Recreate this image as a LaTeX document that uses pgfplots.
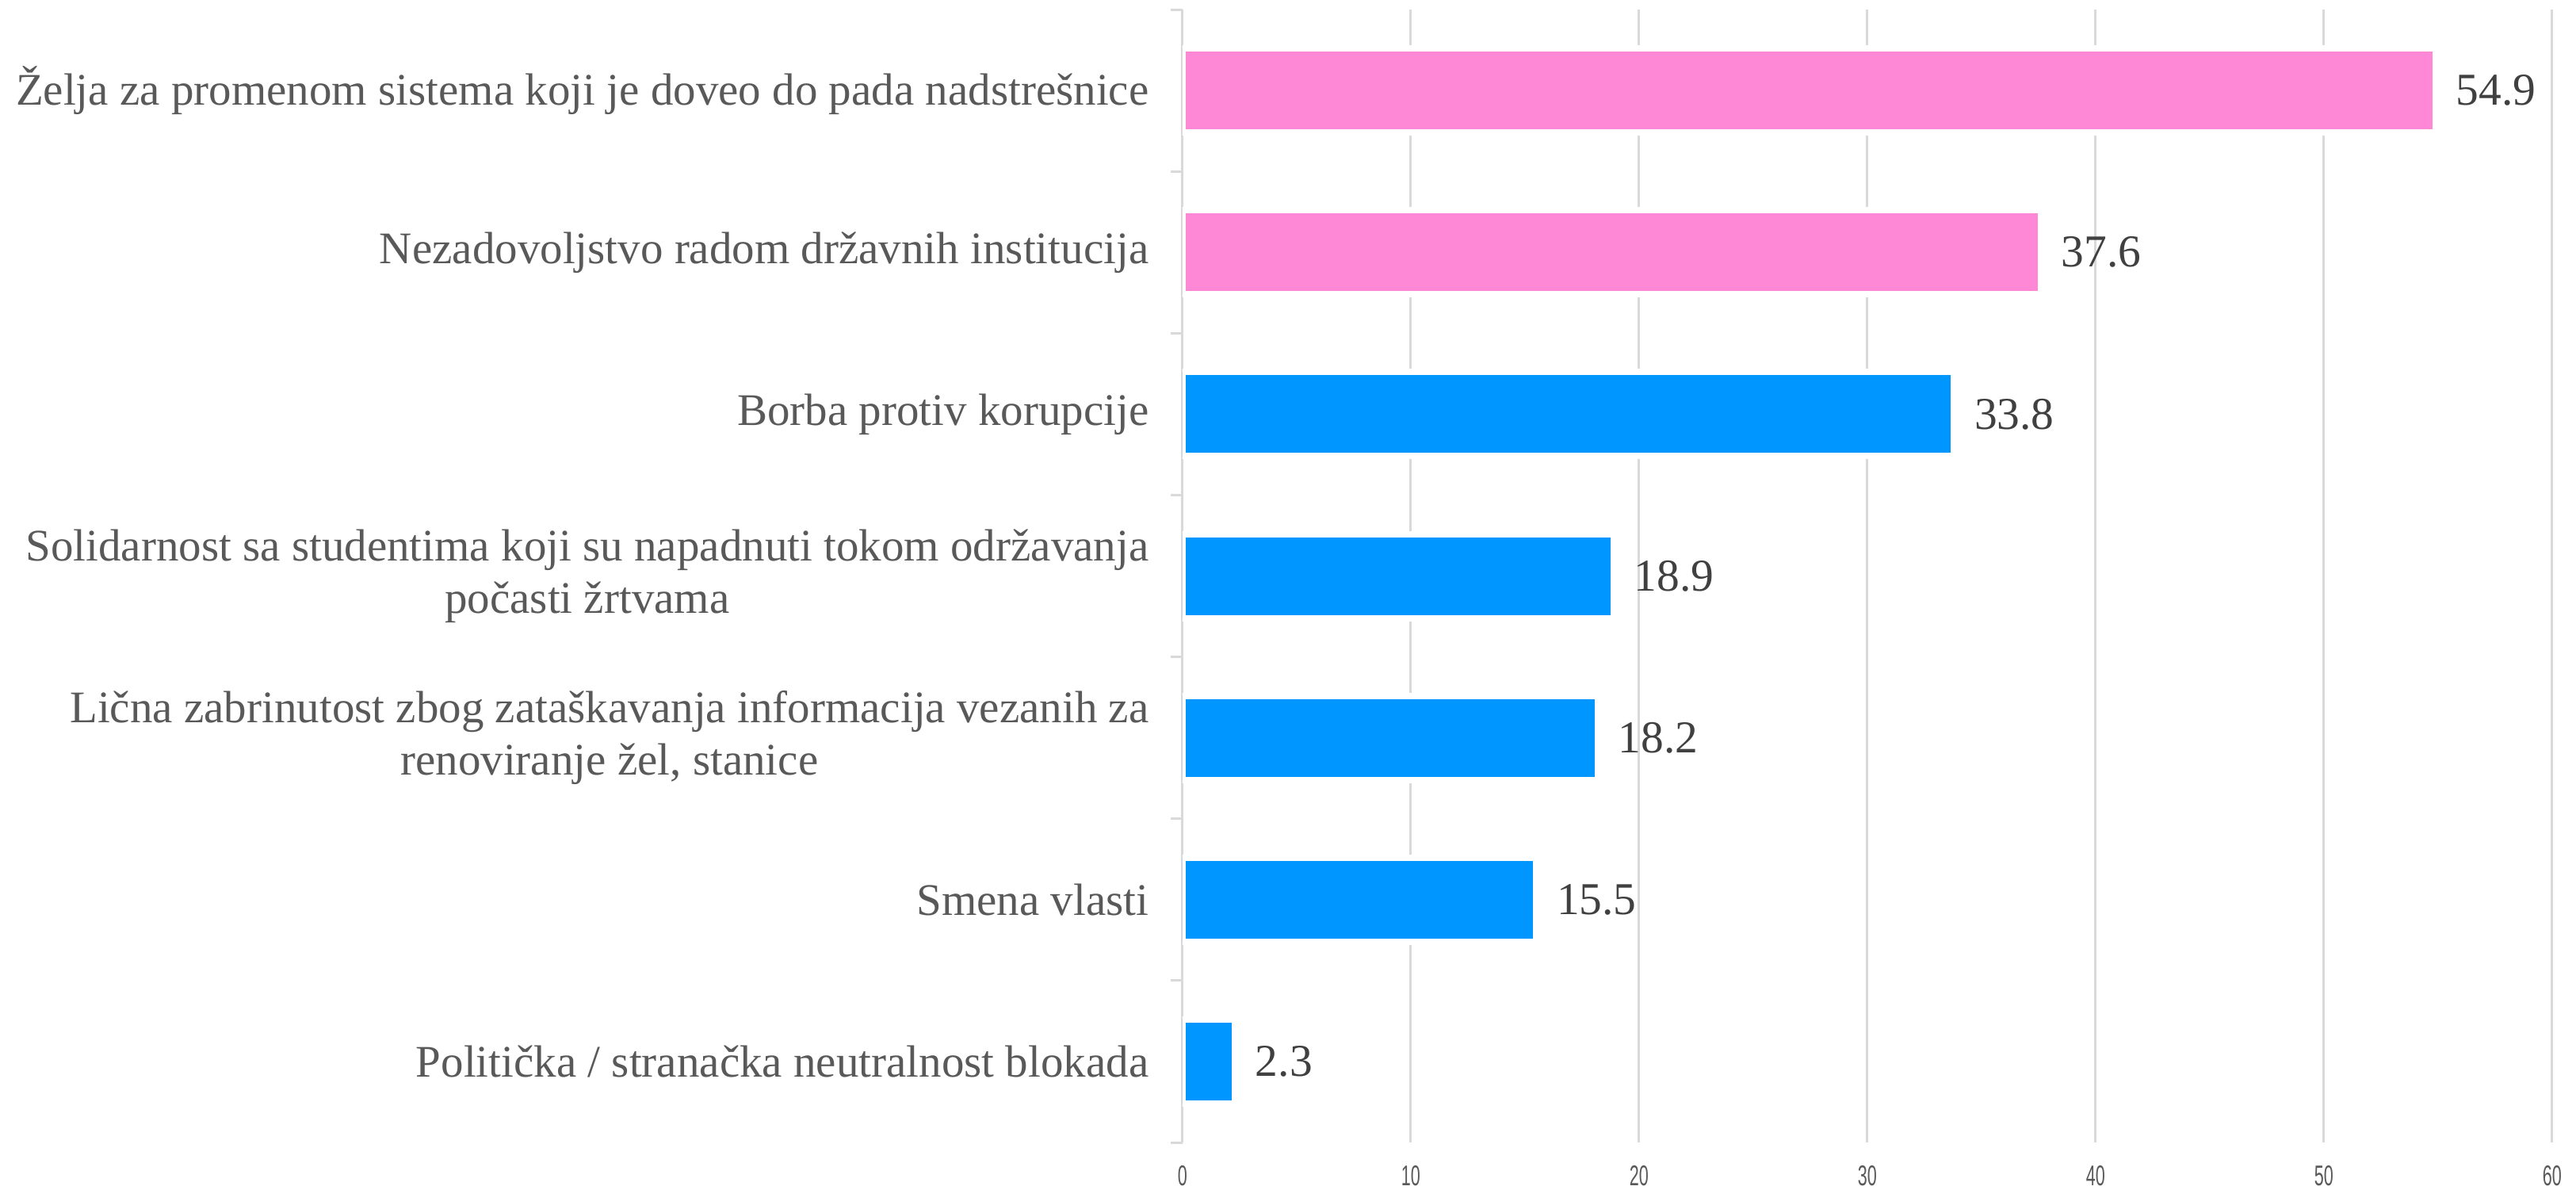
\documentclass[border=0pt]{standalone}
\usepackage{pgfplots}
\pgfplotsset{compat=1.18}
\usepackage{fontspec}
\setmainfont{Liberation Serif}
\newfontfamily\tickfont[FakeStretch=0.6]{Liberation Sans}
\definecolor{pinkbar}{RGB}{255,136,214}
\definecolor{bluebar}{RGB}{0,150,255}
\definecolor{gridgray}{RGB}{217,217,217}
\definecolor{labgray}{RGB}{89,89,89}
\definecolor{valgray}{RGB}{64,64,64}
\pgfkeys{/pgf/number format/assume math mode=true}
\begin{document}
\begin{tikzpicture}
\begin{axis}[
  at={(0,0)}, anchor=south west,
  scale only axis, width=345.6pt, height=285.8pt,
  xmin=0, xmax=60, ymin=-0.5, ymax=6.5, y dir=reverse,
  xbar, bar width=21.2pt, bar shift=0pt,
  axis line style={draw=none},
  xtick={0,10,...,60}, xmajorgrids,
  grid style={gridgray, line width=0.6pt},
  xtick pos=bottom, major tick length=0pt,
  xticklabel style={font=\tickfont\fontsize{7.2}{8}\selectfont, text=labgray, inner sep=0pt, yshift=-5.6pt},
  ytick={0,...,6}, ytick pos=left,
  yticklabels={
    Želja za promenom sistema koji je doveo do pada nadstrešnice,
    Nezadovoljstvo radom državnih institucija,
    Borba protiv korupcije,
    {Solidarnost sa studentima koji su napadnuti tokom održavanja\\počasti žrtvama},
    {Lična zabrinutost zbog zataškavanja informacija vezanih za\\renoviranje žel, stanice},
    Smena vlasti,
    Politička / stranačka neutralnost blokada},
  yticklabel style={font=\fontsize{11.4}{13.3}\selectfont, text=labgray, align=center, xshift=-5pt},
  extra y ticks={-0.5,0.5,1.5,2.5,3.5,4.5,5.5,6.5},
  extra y tick labels={},
  extra y tick style={major tick length=3pt, tick align=outside, tick style={gridgray, line width=0.6pt}, grid=none},
  nodes near coords,
  nodes near coords style={font=\fontsize{11.5}{13}\selectfont, text=valgray, xshift=1pt,
    /pgf/number format/.cd, fixed, precision=1, fixed zerofill},
  every axis plot/.append style={draw=white, line width=1.6pt},
]
\addplot[fill=pinkbar, draw=white] coordinates {(54.9,0) (37.6,1)};
\addplot[fill=bluebar, draw=white] coordinates {(33.8,2) (18.9,3) (18.2,4) (15.5,5) (2.3,6)};
\end{axis}
\pgfresetboundingbox
\path[use as bounding box] (-298.4pt,-11.8pt) rectangle (351.6pt,288.2pt);
\end{tikzpicture}
\end{document}
